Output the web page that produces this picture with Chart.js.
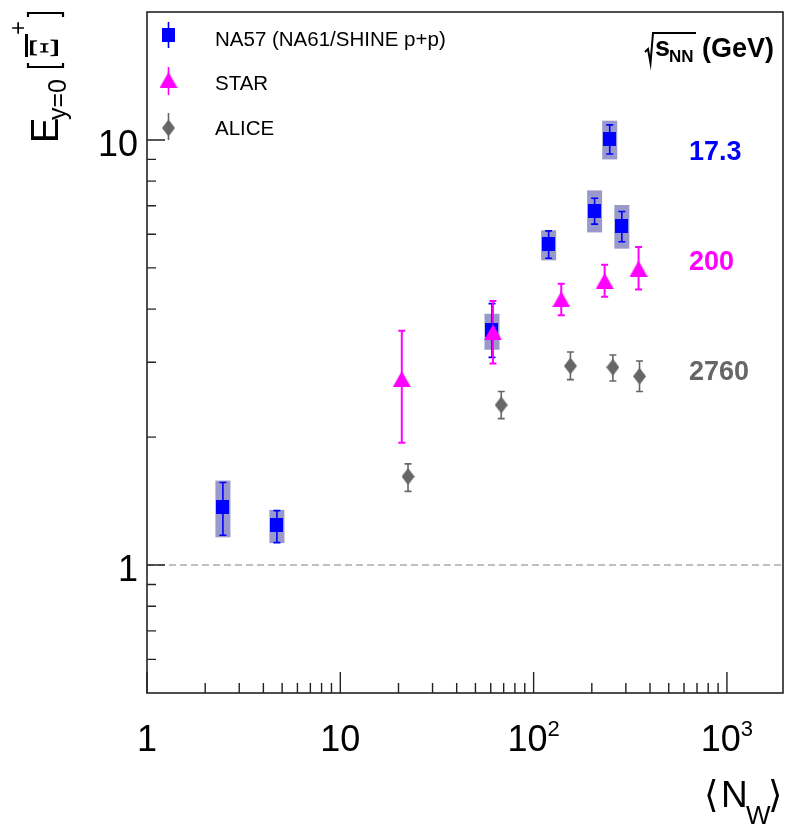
<!DOCTYPE html>
<html>
<head>
<meta charset="utf-8">
<script src="https://cdn.jsdelivr.net/npm/chart.js@4.4.1/dist/chart.umd.min.js"></script>
<style>
  html, body { margin: 0; padding: 0; background: #fff; }
  canvas { display: block; }
</style>
</head>
<body>
<canvas id="chart" width="790" height="826"></canvas>
<script>
// Enhancement of anti-Xi+ at mid-rapidity versus number of wounded nucleons

const na57X = [2.47, 4.70, 60.9, 119.6, 206.8, 247.6, 286];
const na57Y = [1.37, 1.24, 3.57, 5.68, 6.81, 10.06, 6.28];
const na57Lo = [1.175, 1.129, 3.08, 5.27, 6.34, 9.27, 5.76];
const na57Hi = [1.564, 1.343, 4.12, 6.11, 7.29, 10.85, 6.79];
const na57SysLo = [1.162, 1.126, 3.21, 5.21, 6.06, 9.0, 5.55];
const na57SysHi = [1.58, 1.348, 3.90, 6.13, 7.61, 11.1, 7.03];

const starX = [20.8, 61.6, 139, 233, 349];
const starY = [2.74, 3.53, 4.22, 4.66, 4.98];
const starLo = [1.94, 2.98, 3.87, 4.28, 4.45];
const starHi = [3.56, 4.18, 4.59, 5.09, 5.60];

const aliceX = [22.4, 68, 155, 257, 353];
const aliceY = [1.615, 2.38, 2.94, 2.92, 2.78];
const aliceLo = [1.49, 2.21, 2.73, 2.71, 2.56];
const aliceHi = [1.73, 2.56, 3.17, 3.12, 3.02];

const xMajor = [1, 10, 100, 1000];
const xLabels = [['1', ''], ['10', ''], ['10', '2'], ['10', '3']];
const yMajor = [1, 10];
const yLabels = ['1', '10'];
const legendNames = ['NA57 (NA61/SHINE p+p)', 'STAR', 'ALICE'];
const energies = ['17.3', '200', '2760'];

const BLUE = '#0000ff';
const MAGENTA = '#ff00ff';
const GREY = '#666666';
const SANS = '"Liberation Sans", Arial, sans-serif';
const SERIF = '"Liberation Serif", "Times New Roman", serif';

function marker(w, h, color, shape) {
  const c = document.createElement('canvas');
  c.width = w;
  c.height = h;
  const g = c.getContext('2d');
  g.fillStyle = color;
  g.beginPath();
  if (shape === 'square') {
    g.rect(0, 0, w, h);
  } else if (shape === 'triangle') {
    g.moveTo(w / 2, 0); g.lineTo(w, h); g.lineTo(0, h);
  } else {
    g.moveTo(w / 2, 0); g.lineTo(w, h / 2); g.lineTo(w / 2, h); g.lineTo(0, h / 2);
  }
  g.closePath();
  g.fill();
  return c;
}

const squareImg = marker(13, 14, BLUE, 'square');
const triangleImg = marker(18, 16, MAGENTA, 'triangle');
const diamondImg = marker(13, 17, GREY, 'diamond');

function points(xs, ys, lo, hi, sysLo, sysHi) {
  return xs.map((x, i) => ({
    x, y: ys[i], lo: lo[i], hi: hi[i],
    sysLo: sysLo ? sysLo[i] : null, sysHi: sysHi ? sysHi[i] : null,
  }));
}

function drawErr(ctx, xs, ys, p, color, width) {
  const px = xs.getPixelForValue(p.x);
  const top = ys.getPixelForValue(p.hi);
  const bot = ys.getPixelForValue(p.lo);
  ctx.strokeStyle = color;
  ctx.lineWidth = width;
  ctx.beginPath();
  ctx.moveTo(px, top); ctx.lineTo(px, bot);
  ctx.moveTo(px - 3.5, top); ctx.lineTo(px + 3.5, top);
  ctx.moveTo(px - 3.5, bot); ctx.lineTo(px + 3.5, bot);
  ctx.stroke();
}

const errorBars = {
  id: 'errorBars',
  beforeDatasetsDraw(chart) {
    const { ctx, chartArea, scales: { x, y } } = chart;
    ctx.save();
    // dashed reference line at 1
    const y1 = y.getPixelForValue(1);
    ctx.strokeStyle = '#c0c0c0';
    ctx.lineWidth = 2;
    ctx.setLineDash([7, 4]);
    ctx.beginPath();
    ctx.moveTo(chartArea.left, y1);
    ctx.lineTo(chartArea.right, y1);
    ctx.stroke();
    ctx.setLineDash([]);

    // systematic boxes
    ctx.fillStyle = '#9999cc';
    chart.data.datasets[1].data.forEach((p) => {
      const px = x.getPixelForValue(p.x);
      const t = y.getPixelForValue(p.sysHi);
      const b = y.getPixelForValue(p.sysLo);
      ctx.fillRect(px - 7.5, t, 15, b - t);
    });

    // statistical errors: grey, blue, magenta on top
    [2, 1, 0].forEach((i) => {
      const ds = chart.data.datasets[i];
      ds.data.forEach((p) => drawErr(ctx, x, y, p, ds.errColor, ds.errWidth));
    });
    ctx.restore();
  },
};

function drawYTitle(ctx) {
  ctx.save();
  ctx.translate(58, 143);
  ctx.rotate(-Math.PI / 2);
  ctx.fillStyle = '#000';
  ctx.textBaseline = 'alphabetic';
  ctx.font = `38px ${SANS}`;
  ctx.fillText('E', 0, 0);
  ctx.font = `25px ${SANS}`;
  ctx.fillText('y=0', 23, 8);
  // brackets
  ctx.strokeStyle = '#000';
  ctx.lineWidth = 2.2;
  ctx.beginPath();
  ctx.moveTo(80, -30); ctx.lineTo(76, -30); ctx.lineTo(76, 5); ctx.lineTo(80, 5);
  ctx.moveTo(126, -30); ctx.lineTo(130, -30); ctx.lineTo(130, 5); ctx.lineTo(126, 5);
  ctx.stroke();
  // anti-Xi with bar
  ctx.save();
  ctx.translate(85, 0);
  ctx.scale(0.75, 1);
  ctx.font = `42px ${SERIF}`;
  ctx.fillText('\u039E', 0, 0);
  ctx.restore();
  ctx.lineWidth = 3;
  ctx.beginPath();
  ctx.moveTo(86, -31.5); ctx.lineTo(109, -31.5);
  ctx.stroke();
  ctx.font = `24px ${SANS}`;
  ctx.fillText('+', 108, -32);
  ctx.restore();
}

function drawXTitle(ctx) {
  ctx.save();
  ctx.fillStyle = '#000';
  ctx.font = `37px ${SANS}`;
  ctx.fillText('\u27E8', 704, 807);
  ctx.fillText('N', 721, 807);
  ctx.font = `26px ${SANS}`;
  ctx.fillText('W', 746, 824);
  ctx.font = `37px ${SANS}`;
  ctx.fillText('\u27E9', 768, 807);
  ctx.restore();
}

const frameAndText = {
  id: 'frameAndText',
  afterDraw(chart) {
    const { ctx, chartArea: a, scales: { x, y } } = chart;
    ctx.save();
    ctx.strokeStyle = '#222';
    ctx.lineWidth = 1.6;
    ctx.strokeRect(a.left, a.top, a.right - a.left, a.bottom - a.top);

    // ticks pointing inward
    ctx.lineWidth = 1.4;
    ctx.beginPath();
    xMajor.forEach((v) => {
      const px = x.getPixelForValue(v);
      ctx.moveTo(px, a.bottom); ctx.lineTo(px, a.bottom - 21);
      for (let k = 2; k <= 9; k += 1) {
        const m = v * k;
        if (m < x.max) {
          const mx = x.getPixelForValue(m);
          ctx.moveTo(mx, a.bottom); ctx.lineTo(mx, a.bottom - 10);
        }
      }
    });
    [0.1, 1, 10].forEach((v) => {
      if (v >= y.min && v <= y.max) {
        const py = y.getPixelForValue(v);
        ctx.moveTo(a.left, py); ctx.lineTo(a.left + 18, py);
      }
      for (let k = 2; k <= 9; k += 1) {
        const m = v * k;
        if (m > y.min && m < y.max) {
          const my = y.getPixelForValue(m);
          ctx.moveTo(a.left, my); ctx.lineTo(a.left + 9, my);
        }
      }
    });
    ctx.stroke();

    // tick labels
    ctx.fillStyle = '#000';
    ctx.textBaseline = 'alphabetic';
    xMajor.forEach((v, i) => {
      const px = x.getPixelForValue(v);
      const [base, sup] = xLabels[i];
      ctx.font = `36px ${SANS}`;
      const wb = ctx.measureText(base).width;
      ctx.font = `22px ${SANS}`;
      const ws = sup ? ctx.measureText(sup).width : 0;
      const left = px - (wb + ws) / 2;
      ctx.font = `36px ${SANS}`;
      ctx.textAlign = 'left';
      ctx.fillText(base, left, 751);
      if (sup) {
        ctx.font = `22px ${SANS}`;
        ctx.fillText(sup, left + wb, 736);
      }
    });
    ctx.font = `36px ${SANS}`;
    ctx.textAlign = 'right';
    yMajor.forEach((v, i) => {
      ctx.fillText(yLabels[i], 138, y.getPixelForValue(v) + 16);
    });
    ctx.textAlign = 'left';

    drawYTitle(ctx);
    drawXTitle(ctx);

    // legend
    const rows = [
      { img: squareImg, color: BLUE, cy: 35, l0: 22, l1: 48 },
      { img: triangleImg, color: MAGENTA, cy: 80, l0: 67, l1: 95 },
      { img: diamondImg, color: GREY, cy: 128, l0: 113, l1: 140 },
    ];
    const baselines = [46, 90, 135];
    rows.forEach((r, i) => {
      ctx.strokeStyle = r.color;
      ctx.lineWidth = 1.6;
      ctx.beginPath();
      ctx.moveTo(168.5, r.l0); ctx.lineTo(168.5, r.l1);
      ctx.stroke();
      ctx.drawImage(r.img, 168.5 - r.img.width / 2, r.cy - r.img.height / 2);
      ctx.fillStyle = '#000';
      ctx.font = `20.5px ${SANS}`;
      ctx.fillText(legendNames[i], 215, baselines[i]);
    });

    // sqrt(s_NN) (GeV)
    ctx.strokeStyle = '#000';
    ctx.lineWidth = 2;
    ctx.beginPath();
    ctx.moveTo(645, 52); ctx.lineTo(648, 49); ctx.lineTo(650.5, 63);
    ctx.lineTo(653, 33); ctx.lineTo(696, 33);
    ctx.stroke();
    ctx.fillStyle = '#000';
    ctx.font = `bold 27px ${SANS}`;
    ctx.fillText('s', 655, 56);
    ctx.font = `bold 17px ${SANS}`;
    ctx.fillText('NN', 669, 62);
    ctx.font = `bold 27px ${SANS}`;
    ctx.fillText('(GeV)', 702, 57);

    // energy labels
    ctx.font = `bold 27px ${SANS}`;
    ctx.fillStyle = BLUE;
    ctx.fillText(energies[0], 689, 160);
    ctx.fillStyle = MAGENTA;
    ctx.fillText(energies[1], 689, 270);
    ctx.fillStyle = GREY;
    ctx.fillText(energies[2], 689, 380);
    ctx.restore();
  },
};

const ctx = document.getElementById('chart').getContext('2d');

// eslint-disable-next-line no-unused-vars
const chart = new Chart(ctx, {
  type: 'scatter',
  data: {
    datasets: [
      {
        label: 'STAR',
        data: points(starX, starY, starLo, starHi),
        pointStyle: triangleImg,
        errColor: MAGENTA,
        errWidth: 2,
        order: 0,
      },
      {
        label: 'NA57',
        data: points(na57X, na57Y, na57Lo, na57Hi, na57SysLo, na57SysHi),
        pointStyle: squareImg,
        errColor: BLUE,
        errWidth: 1.6,
        order: 1,
      },
      {
        label: 'ALICE',
        data: points(aliceX, aliceY, aliceLo, aliceHi),
        pointStyle: diamondImg,
        errColor: GREY,
        errWidth: 1.6,
        order: 2,
      },
    ],
  },
  options: {
    responsive: false,
    animation: false,
    devicePixelRatio: 1,
    layout: { padding: { left: 147, right: 7, top: 12, bottom: 133 } },
    plugins: {
      legend: { display: false },
      tooltip: { enabled: false },
    },
    scales: {
      x: { type: 'logarithmic', min: 1, max: 1950, display: false },
      y: { type: 'logarithmic', min: 0.5, max: 20, display: false },
    },
  },
  plugins: [errorBars, frameAndText],
});
</script>
</body>
</html>
